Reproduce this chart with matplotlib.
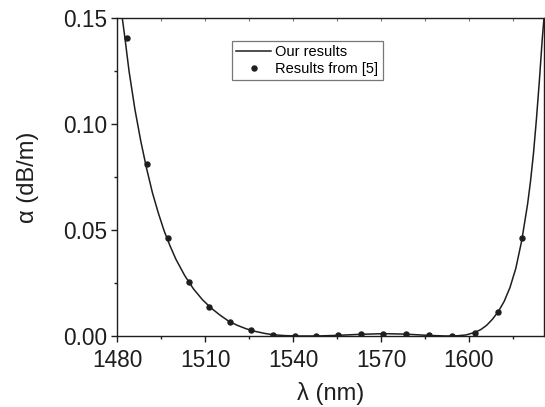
import numpy as np
import matplotlib.pyplot as plt
from matplotlib.ticker import FixedLocator

plt.rcParams['font.family'] = ['Liberation Sans', 'DejaVu Sans']

# computed attenuation curve (nm, dB/m)
curve_wl = [1481.7, 1482.6, 1484.0, 1486.0, 1488.0, 1490.0, 1492.0, 1494.0,
            1496.0, 1498.0, 1500.0, 1503.0, 1506.0, 1509.0, 1512.0, 1515.0,
            1518.0, 1521.0, 1524.0, 1527.0, 1530.0, 1533.0, 1537.0, 1541.0,
            1548.0, 1555.0, 1563.0, 1571.0, 1578.0, 1586.0, 1592.0, 1596.0,
            1599.0, 1602.0, 1604.0, 1606.0, 1608.0, 1610.0, 1612.0, 1614.0,
            1616.0, 1618.0, 1620.0, 1621.0, 1622.0, 1623.0, 1624.0, 1625.0,
            1625.6]
curve_alpha = [0.1500, 0.1406, 0.1250, 0.1070, 0.0920, 0.0790, 0.0675, 0.0580,
               0.0495, 0.0425, 0.0362, 0.0285, 0.0222, 0.0172, 0.0132, 0.0099,
               0.0070, 0.0050, 0.0034, 0.0022, 0.0013, 0.0006, 0.0002, 0.0000,
               0.0000, 0.0003, 0.0008, 0.0011, 0.0009, 0.0003, 0.0000, 0.0001,
               0.0005, 0.0017, 0.0030, 0.0050, 0.0079, 0.0115, 0.0163, 0.0229,
               0.0320, 0.0450, 0.0622, 0.0730, 0.0860, 0.1020, 0.1200, 0.1400,
               0.1500]

# reference values from [5]
ref_wl = [1483.2, 1490.2, 1497.2, 1504.6, 1511.4, 1518.6, 1525.7, 1533.1,
          1540.5, 1547.9, 1555.3, 1563.0, 1570.7, 1578.5, 1586.2, 1594.2,
          1602.0, 1610.0, 1618.2]
ref_alpha = [0.1406, 0.0811, 0.0464, 0.0255, 0.0137, 0.0066, 0.0028, 0.0006,
             0.0000, 0.0000, 0.0003, 0.0008, 0.0011, 0.0009, 0.0003, 0.0000,
             0.0016, 0.0112, 0.0461]

x_major = [1480, 1510, 1540, 1570, 1600]
x_minor = [1495, 1525, 1555, 1585, 1615]
y_major = [0.00, 0.05, 0.10, 0.15]
y_minor = [0.025, 0.075, 0.125]

ink = '#1e1e1e'

fig = plt.figure(figsize=(5.45, 4.07), dpi=100)
ax = fig.add_axes([117.3 / 545, 1 - 336 / 407, (544 - 117.3) / 545, (336 - 18) / 407])

line, = ax.plot(curve_wl, curve_alpha, color=ink, lw=1.1, label='Our results')
pts, = ax.plot(ref_wl, ref_alpha, 'o', color=ink, ms=3.6, label='Results from [5]')

ax.set_xlim(1480, 1625.6)
ax.set_ylim(0, 0.15)
ax.xaxis.set_major_locator(FixedLocator(x_major))
ax.xaxis.set_minor_locator(FixedLocator(x_minor))
ax.yaxis.set_major_locator(FixedLocator(y_major))
ax.yaxis.set_minor_locator(FixedLocator(y_minor))
ax.yaxis.set_major_formatter(plt.FormatStrFormatter('%.2f'))

ax.tick_params(which='both', direction='out', labelsize=16.3, color=ink,
               labelcolor=ink, top=False, right=False)
ax.tick_params(which='major', length=4.5, width=1)
ax.tick_params(which='minor', length=2.5, width=1)
ax.tick_params(axis='x', which='major', pad=5)
ax.tick_params(axis='y', which='major', pad=3)

# short inward ticks along the top edge
sec = ax.secondary_xaxis('top')
sec.set_xticks(x_major + x_minor)
sec.tick_params(direction='in', length=2.5, width=0.8, labeltop=False, color='#777777')
sec.spines['top'].set_visible(False)

for s in ax.spines.values():
    s.set_linewidth(1.0)
    s.set_color(ink)

ax.set_xlabel('λ (nm)', fontsize=17, color=ink, labelpad=7)
ax.set_ylabel('α (dB/m)', fontsize=17, color=ink, labelpad=17)

leg = fig.legend(handles=[line, pts], loc='upper left',
                 bbox_to_anchor=(231.7 / 545, 1 - 40.7 / 407), borderaxespad=0,
                 fontsize=10.5, frameon=True, fancybox=False, handlelength=2.4,
                 handletextpad=0.3, borderpad=0.3, labelspacing=0.2, numpoints=1)
leg.get_frame().set_edgecolor('#555555')
leg.get_frame().set_linewidth(0.9)

fig.savefig('out.png', dpi=100)
